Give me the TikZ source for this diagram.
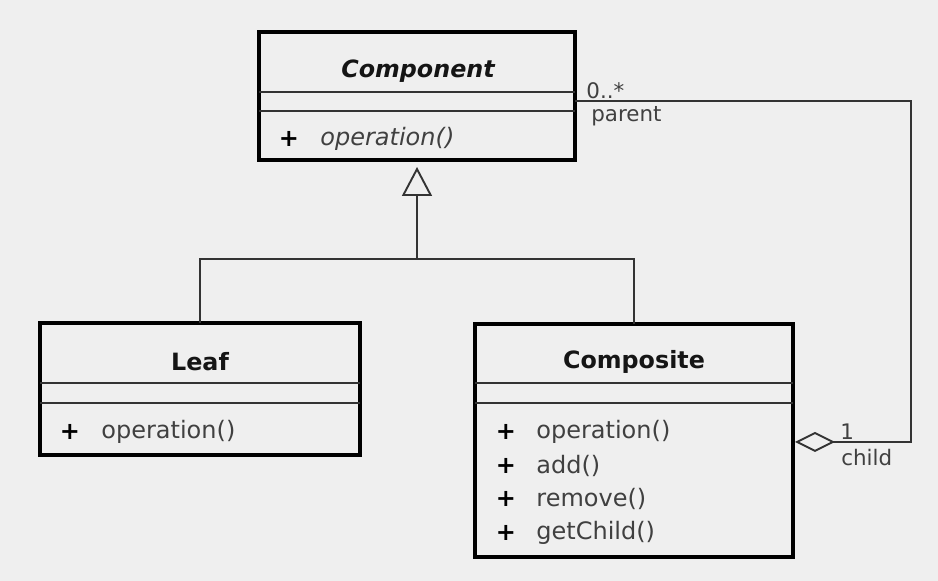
\documentclass[tikz,border=0pt]{standalone}
\usepackage{fontspec}
\setmainfont{DejaVu Sans}
\usetikzlibrary{arrows.meta,fit}
\definecolor{bg}{HTML}{EFEFEF}
\definecolor{optxt}{HTML}{404040}
\definecolor{ttl}{HTML}{151515}
\definecolor{lnk}{HTML}{333333}
\begin{document}
\begin{tikzpicture}[x=0.5pt,y=-0.5pt,
  classbox/.style={draw=black, line width=2pt, inner sep=0pt, outer sep=0pt},
  divider/.style={draw=lnk, line width=0.85pt},
  title/.style={text=ttl, font=\fontsize{11.9}{14}\selectfont\bfseries, inner sep=0pt},
  plus/.style={text=black, font=\fontsize{12}{14}\selectfont\bfseries, inner sep=0pt},
  op/.style={text=optxt, font=\fontsize{12}{14}\selectfont, anchor=west, inner sep=0pt},
  lbl/.style={text=optxt, font=\fontsize{10.7}{13}\selectfont, anchor=west, inner sep=0pt},
  link/.style={draw=lnk, line width=0.95pt}]
\fill[bg] (0,0) rectangle (938,581);
\useasboundingbox (0,0) rectangle (938,581);

% Component
\node[classbox, fit={(259,32) (575,160)}] (comp) {};
\draw[divider] (comp.west |- 0,92) -- (comp.east |- 0,92);
\draw[divider] (comp.west |- 0,111) -- (comp.east |- 0,111);
\node[title] (compT) at (418,71) {\itshape Component};
\node[plus] (compP1) at (289,139) {+};
\node[op] (compO1) at (320,139) {\itshape operation()};

% Leaf
\node[classbox, fit={(40,323) (360,455)}] (leaf) {};
\draw[divider] (leaf.west |- 0,383) -- (leaf.east |- 0,383);
\draw[divider] (leaf.west |- 0,403) -- (leaf.east |- 0,403);
\node[title] (leafT) at (200,362) {Leaf};
\node[plus] (leafP1) at (70,432) {+};
\node[op] (leafO1) at (101,432) {operation()};

% Composite
\node[classbox, fit={(475,324) (793,557)}] (compo) {};
\draw[divider] (compo.west |- 0,383) -- (compo.east |- 0,383);
\draw[divider] (compo.west |- 0,403) -- (compo.east |- 0,403);
\node[title] (compoT) at (634,362) {Composite};
\node[plus] (cP1) at (506,432) {+};
\node[op] (cO1) at (536,432) {operation()};
\node[plus] (cP2) at (506,466) {+};
\node[op] (cO2) at (536,466) {add()};
\node[plus] (cP3) at (506,499) {+};
\node[op] (cO3) at (536,499) {remove()};
\node[plus] (cP4) at (506,533) {+};
\node[op] (cO4) at (536,533) {getChild()};

% Generalization
\coordinate (j) at (417,259);
\draw[link] (leaf.north) |- (j) -| (compo.north);
\draw[link, -{Triangle[open, length=14.5pt, width=15pt, line width=0.95pt]}, shorten >=3.5pt] (j) -- (comp.south);

% Aggregation
\coordinate (corner) at (911,101);
\draw[link, {Diamond[open, length=20pt, width=10pt, line width=0.95pt]}-, shorten <=1pt] (compo.east |- 0,442) -| (corner) -- (comp.east |- corner);
\node[lbl] (mult1) at (586,91) {0..*};
\node[lbl] (role1) at (591,116) {parent};
\node[lbl] (mult2) at (840,432) {1};
\node[lbl] (role2) at (841,458) {child};
\end{tikzpicture}
\end{document}
